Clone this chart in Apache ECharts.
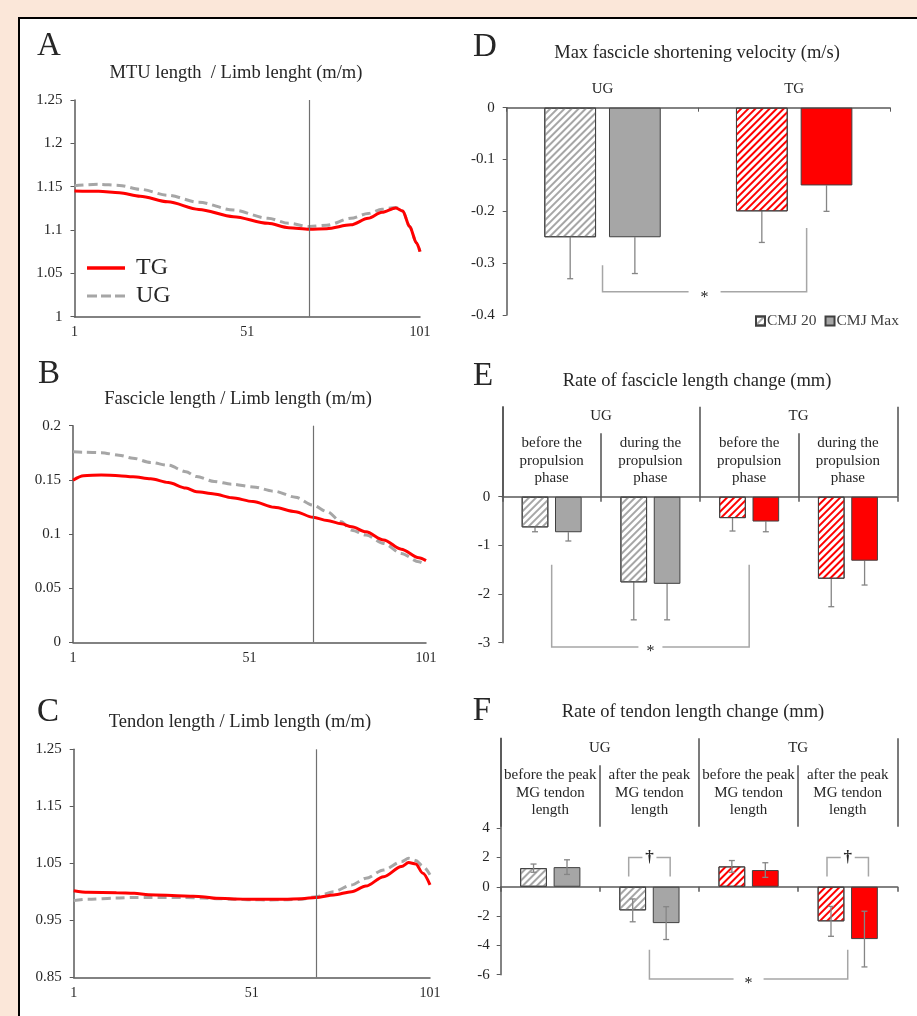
<!DOCTYPE html>
<html lang="en">
<head>
<meta charset="UTF-8">
<title>Jump mechanics figure</title>
<style>
  html, body { margin: 0; padding: 0; width: 917px; height: 1016px; overflow: hidden; background: #fbe7d9; }
  #frame { position: absolute; left: 18px; top: 17px; width: 920px; height: 1020px; background: #fff;
           border-left: 2px solid #000; border-top: 2px solid #000; }
  #main { position: absolute; left: 0; top: 0; width: 917px; height: 1016px; }
</style>
</head>
<body>
<div id="frame"></div>
<div id="main"></div>
<script src="https://cdn.jsdelivr.net/npm/echarts@6/dist/echarts.min.js"></script>
<script>
// ---- data ----
// A-C : % of the jump, 1..101
var pct = [];
for (var k = 1; k <= 101; k++) pct.push(String(k));
var propStart = '69';

var mtuTicks = [1, 1.05, 1.1, 1.15, 1.2, 1.25];
var mtuX  = [1, 8, 14, 20, 28, 37, 47, 57, 63, 69, 74, 81, 86, 90, 94, 96, 98, 100, 101];
var mtuTG = [1.145, 1.1446, 1.1431, 1.139, 1.1325, 1.1238, 1.1154, 1.1077, 1.1027, 1.1008, 1.1015, 1.106, 1.1135, 1.1205, 1.1255, 1.122, 1.104, 1.085, 1.075];
var mtuUG = [1.1512, 1.1527, 1.1515, 1.147, 1.140, 1.132, 1.123, 1.1135, 1.1077, 1.104, 1.1055, 1.1135, 1.119, 1.124, 1.126, 1.122, 1.104, 1.085, 1.075];

var fasTicks = [0, 0.05, 0.1, 0.15, 0.2];
var fasX  = [1, 4, 9, 14, 18, 23, 28, 33, 36, 41, 46, 52, 58, 64, 69, 73, 77, 80, 84, 89, 94, 99, 101];
var fasTG = [0.1497, 0.1538, 0.1545, 0.1539, 0.1528, 0.151, 0.1475, 0.1425, 0.139, 0.137, 0.1335, 0.130, 0.1246, 0.1206, 0.1154, 0.1125, 0.1095, 0.1066, 0.102, 0.0945, 0.086, 0.078, 0.0754];
var fasUG = [0.176, 0.1755, 0.1751, 0.1728, 0.170, 0.166, 0.1635, 0.1575, 0.153, 0.1485, 0.146, 0.1435, 0.1395, 0.134, 0.1266, 0.1206, 0.1112, 0.1035, 0.099, 0.0913, 0.082, 0.0743, 0.0714];

var tenTicks = [0.85, 0.95, 1.05, 1.15, 1.25];
var tenX  = [1, 5, 13, 18, 22, 32, 37, 41, 46, 51, 56, 60, 65, 69, 74, 79, 83, 88, 93, 95, 97, 99, 101];
var tenTG = [1.002, 0.999, 0.9985, 0.9974, 0.995, 0.9927, 0.9915, 0.9886, 0.9875, 0.9868, 0.9868, 0.9868, 0.988, 0.990, 0.9944, 1.0003, 1.010, 1.0266, 1.0442, 1.0512, 1.0488, 1.0325, 1.012];
var tenUG = [0.9845, 0.987, 0.989, 0.990, 0.990, 0.990, 0.989, 0.988, 0.9868, 0.986, 0.9857, 0.986, 0.9868, 0.9915, 1.0003, 1.012, 1.0237, 1.0383, 1.053, 1.0588, 1.055, 1.045, 1.03];

// D
var dGroups = ['UG', 'TG'];
var dTicks = [-0.4, -0.3, -0.2, -0.1, 0];
var dCmj20 = [-0.25, -0.20], dCmj20Sd = [0.08, 0.06];
var dCmjMax = [-0.25, -0.15], dCmjMaxSd = [0.07, 0.05];

// E
var eGroups = ['UG', 'TG'];
var ePhases = ['before the\npropulsion\nphase', 'during the\npropulsion\nphase', 'before the\npropulsion\nphase', 'during the\npropulsion\nphase'];
var ePhaseGroup = ['UG', 'UG', 'TG', 'TG'];
var eTicks = [-3, -2, -1, 0];
var eCmj20 = [-0.63, -1.76, -0.44, -1.685], eCmj20Sd = [0.09, 0.77, 0.265, 0.575];
var eCmjMax = [-0.73, -1.79, -0.51, -1.315], eCmjMaxSd = [0.18, 0.74, 0.21, 0.5];

// F
var fGroups = ['UG', 'TG'];
var fPhases = ['before the peak\nMG tendon\nlength', 'after the peak\nMG tendon\nlength', 'before the peak\nMG tendon\nlength', 'after the peak\nMG tendon\nlength'];
var fPhaseGroup = ['UG', 'UG', 'TG', 'TG'];
var fTicks = [-6, -4, -2, 0, 2, 4];
var fCmj20 = [1.27, -1.61, 1.39, -2.36], fCmj20Sd = [0.28, 0.78, 0.4, 1.02];
var fCmjMax = [1.34, -2.48, 1.14, -3.57], fCmjMaxSd = [0.5, 1.12, 0.5, 1.9];

// significance brackets: [from cat, to cat, top left, top right, base]
var dStar = [0, 1.065, -0.304, -0.232, -0.355];
var eStar = [0, 2, -1.4, -1.4, -3.09];
var fStar = [1, 3, -4.3, -4.3, -6.3];
// dagger brackets: [cat, top, bottom]
var fDagger = [[1, 2.0, 0.7], [3, 2.0, 0.7]];

// ---- style ----
var SERIF = '"Liberation Serif", "Times New Roman", serif';
var AXIS = '#5a5a5a', TEXT = '#262626';
var UG_GREY = '#a6a6a6', TG_RED = '#ff0000', BORDER = '#404040', ERR = '#858585', SIG = '#a6a6a6';
var BAR_W = 0.27, BAR_GAP = 0.25;
var DASH_ICON = 'path://M0,0h10v3h-10z M14,0h10v3h-10z M28,0h10v3h-10z';

function hatch(c) {
  return { symbol: 'rect', symbolSize: 1, symbolKeepAspect: false, dashArrayX: [1, 0], dashArrayY: [2, 3],
           rotation: -Math.PI / 4, color: c };
}

function lineX(grid) {
  return { type: 'category', gridIndex: grid, data: pct, boundaryGap: false,
    axisLine: { lineStyle: { color: AXIS, width: 1.5 } }, axisTick: { show: false },
    axisLabel: { interval: 49, margin: 9, color: TEXT, fontFamily: SERIF, fontSize: 14 } };
}

function valY(grid, min, max, ticks, margin) {
  return { type: 'value', gridIndex: grid, min: min, max: max,
    axisLine: { show: true, lineStyle: { color: AXIS, width: 1.5 } },
    axisTick: { show: true, length: 4, customValues: ticks, lineStyle: { color: AXIS } },
    axisLabel: { customValues: ticks, margin: margin, color: TEXT, fontFamily: SERIF, fontSize: 15 },
    splitLine: { show: false } };
}

function headerAxis(grid, cats, offset, len) {
  return { type: 'category', gridIndex: grid, data: cats, position: 'top', offset: offset,
    axisLine: { show: false, onZero: false },
    axisTick: { show: true, inside: true, length: len, interval: 0, lineStyle: { color: '#505050', width: 1.5 } },
    axisLabel: { inside: true, margin: 1, interval: 0, color: TEXT, fontFamily: SERIF, fontSize: 15, lineHeight: 17.6 } };
}

function zeroAxis(grid, cats) {
  return { type: 'category', gridIndex: grid, data: cats, position: 'bottom',
    axisLine: { onZero: true, lineStyle: { color: AXIS, width: 1.5 } },
    axisTick: { show: true, length: 5, interval: 0, lineStyle: { color: AXIS, width: 1.5 } },
    axisLabel: { show: false } };
}

function curve(name, xs, ys, grid, dashed, mark) {
  var s = { type: 'line', name: name, xAxisIndex: grid, yAxisIndex: grid, symbol: 'none',
    smooth: 0.3, smoothMonotone: 'x', z: dashed ? 2 : 3,
    data: xs.map(function (v, i) { return [String(v), ys[i]]; }),
    itemStyle: { color: dashed ? UG_GREY : TG_RED },
    lineStyle: dashed ? { color: UG_GREY, width: 3, type: [9, 5] } : { color: TG_RED, width: 3 } };
  if (mark) {
    s.markLine = { silent: true, symbol: 'none', label: { show: false },
      lineStyle: { color: '#707070', width: 1.2, type: 'solid' }, data: [{ xAxis: propStart }] };
  }
  return s;
}

function bars(name, xIdx, yIdx, vals, groups, hatched) {
  return { type: 'bar', name: name, xAxisIndex: xIdx, yAxisIndex: yIdx,
    barWidth: (BAR_W * 100) + '%', barGap: (BAR_GAP * 100) + '%', z: 3,
    itemStyle: hatched ? { color: '#fff', borderColor: BORDER, borderWidth: 1, decal: hatch(UG_GREY) }
                       : { color: UG_GREY, borderColor: BORDER, borderWidth: 1 },
    data: vals.map(function (v, i) {
      var c = groups[i] === 'TG' ? TG_RED : UG_GREY;
      return { value: v, itemStyle: hatched ? { color: '#fff', decal: hatch(c) } : { color: c } };
    }) };
}

function errBars(xIdx, yIdx, vals, sds, side, both) {
  return { type: 'custom', xAxisIndex: xIdx, yAxisIndex: yIdx, silent: true, z: both ? 6 : 2,
    data: vals.map(function (v, i) { return [i, v, sds[i]]; }),
    renderItem: function (params, api) {
      var i = api.value(0), v = api.value(1), sd = api.value(2);
      var band = api.size([1, 0], [i, v])[0];
      var bw = band * BAR_W;
      var dx = side * (bw + bw * BAR_GAP) / 2;
      var ends = both ? [v - sd, v + sd] : [v, v < 0 ? v - sd : v + sd];
      var p0 = api.coord([i, ends[0]]), p1 = api.coord([i, ends[1]]);
      var x = p0[0] + dx;
      var st = { stroke: ERR, lineWidth: 1.3 };
      var kids = [
        { type: 'line', shape: { x1: x, y1: p0[1], x2: x, y2: p1[1] }, style: st },
        { type: 'line', shape: { x1: x - 3, y1: p1[1], x2: x + 3, y2: p1[1] }, style: st }
      ];
      if (both) kids.push({ type: 'line', shape: { x1: x - 3, y1: p0[1], x2: x + 3, y2: p0[1] }, style: st });
      return { type: 'group', children: kids };
    } };
}

function sigBracket(xIdx, yIdx, b, gap, markDy) {
  return { type: 'custom', xAxisIndex: xIdx, yAxisIndex: yIdx, silent: true, z: 4, data: [[0, 0]],
    renderItem: function (params, api) {
      var band = api.size([1, 0], [0, 0])[0];
      function pt(x, y) { var i = Math.round(x); var p = api.coord([i, y]); return [p[0] + (x - i) * band, p[1]]; }
      var lt = pt(b[0], b[2]), rt = pt(b[1], b[3]), lb = pt(b[0], b[4]), rb = pt(b[1], b[4]);
      var mid = (lb[0] + rb[0]) / 2;
      var st = { stroke: SIG, lineWidth: 1.5, fill: null };
      return { type: 'group', children: [
        { type: 'polyline', shape: { points: [lt, lb, [mid - gap, lb[1]]] }, style: st },
        { type: 'polyline', shape: { points: [[mid + gap, rb[1]], rb, rt] }, style: st },
        { type: 'text', x: mid, y: lb[1] + markDy,
          style: { text: '*', fill: TEXT, font: '16px ' + SERIF, align: 'center', verticalAlign: 'middle',
                   textAlign: 'center', textVerticalAlign: 'middle' } }
      ] };
    } };
}

function daggers(xIdx, yIdx, items) {
  return { type: 'custom', xAxisIndex: xIdx, yAxisIndex: yIdx, silent: true, z: 4,
    data: items.map(function (d) { return [d[0], d[1], d[2]]; }),
    renderItem: function (params, api) {
      var i = api.value(0), top = api.value(1), bot = api.value(2);
      var band = api.size([1, 0], [i, top])[0];
      var bw = band * BAR_W;
      var half = (bw + bw * BAR_GAP) / 2 + 4;
      var pt = api.coord([i, top]), pb = api.coord([i, bot]);
      var L = pt[0] - half, R = pt[0] + half;
      var st = { stroke: SIG, lineWidth: 1.5, fill: null };
      return { type: 'group', children: [
        { type: 'polyline', shape: { points: [[L, pb[1]], [L, pt[1]], [pt[0] - 7, pt[1]]] }, style: st },
        { type: 'polyline', shape: { points: [[pt[0] + 7, pt[1]], [R, pt[1]], [R, pb[1]]] }, style: st },
        { type: 'text', x: pt[0], y: pt[1],
          style: { text: '\u2020', fill: TEXT, font: 'bold 17px ' + SERIF, align: 'center', verticalAlign: 'middle',
                   textAlign: 'center', textVerticalAlign: 'middle' } }
      ] };
    } };
}

// panel letters and titles: [text, x, y, size]
var texts = [
  ['A', 49, 46, 33], ['B', 49, 374, 33], ['C', 48, 712, 33],
  ['D', 485, 47, 33], ['E', 483, 376, 33], ['F', 482, 711, 33],
  ['MTU length  / Limb lenght (m/m)', 236, 73, 18.5],
  ['Fascicle length / Limb length (m/m)', 238, 399, 18.5],
  ['Tendon length / Limb length (m/m)', 240, 722, 18.5],
  ['Max fascicle shortening velocity (m/s)', 697, 53, 18.5],
  ['Rate of fascicle length change (mm)', 697, 381, 18.5],
  ['Rate of tendon length change (mm)', 693, 712, 18.5]
];

var chart = echarts.init(document.getElementById('main'));
chart.setOption({
  animation: false,
  backgroundColor: 'transparent',
  grid: [
    { left: 74.5, top: 100, width: 345.5, height: 216.7 },
    { left: 73, top: 425.7, width: 353, height: 216.6 },
    { left: 73.7, top: 749.3, width: 356.3, height: 228 },
    { left: 506.7, top: 107.7, width: 383.3, height: 207.3 },
    { left: 502.3, top: 406.7, width: 395, height: 236 },
    { left: 500.7, top: 738.3, width: 396.6, height: 236.4 }
  ],
  xAxis: [
    lineX(0), lineX(1), lineX(2),
    { type: 'category', gridIndex: 3, data: dGroups, position: 'top',
      axisLine: { onZero: true, lineStyle: { color: AXIS, width: 1.5 } },
      axisTick: { show: true, inside: true, length: 4, interval: 0, lineStyle: { color: AXIS } },
      axisLabel: { margin: 11, color: TEXT, fontFamily: SERIF, fontSize: 15 } },
    zeroAxis(4, ePhases), headerAxis(4, ePhases, -26.6, 63.4), headerAxis(4, eGroups, 0, 90),
    zeroAxis(5, fPhases), headerAxis(5, fPhases, -27, 61.4), headerAxis(5, fGroups, 0, 88.4)
  ],
  yAxis: [
    valY(0, 1, 1.25, mtuTicks, 12),
    valY(1, 0, 0.2, fasTicks, 12),
    valY(2, 0.85, 1.25, tenTicks, 12),
    valY(3, -0.4, 0, dTicks, 12),
    valY(4, -3, 1.85, eTicks, 12),
    valY(5, -6, 10.13, fTicks, 11)
  ],
  legend: [
    { data: [{ name: 'TG', icon: 'rect' }, { name: 'UG', icon: DASH_ICON }],
      orient: 'vertical', left: 87, top: 256, itemWidth: 38, itemHeight: 3.5, itemGap: 4,
      padding: 0, selectedMode: false, itemStyle: { borderWidth: 0 },
      textStyle: { fontFamily: SERIF, fontSize: 24, color: TEXT, padding: [0, 0, 0, 6] } },
    { data: ['CMJ 20', 'CMJ Max'], left: 755, top: 313, itemWidth: 9, itemHeight: 9, itemGap: 8, icon: 'rect',
      padding: 0, selectedMode: false,
      textStyle: { fontFamily: SERIF, fontSize: 15.5, color: '#404040', padding: [0, 0, 0, -3] } }
  ],
  graphic: texts.map(function (t) {
    return { type: 'text', x: t[1], y: t[2], silent: true,
      style: { text: t[0], font: t[3] + 'px ' + SERIF, fill: TEXT, align: 'center', verticalAlign: 'middle',
               textAlign: 'center', textVerticalAlign: 'middle' } };
  }),
  series: [
    curve('UG', mtuX, mtuUG, 0, true, false), curve('TG', mtuX, mtuTG, 0, false, true),
    curve('UG', fasX, fasUG, 1, true, false), curve('TG', fasX, fasTG, 1, false, true),
    curve('UG', tenX, tenUG, 2, true, false), curve('TG', tenX, tenTG, 2, false, true),

    bars('CMJ 20', 3, 3, dCmj20, dGroups, true), bars('CMJ Max', 3, 3, dCmjMax, dGroups, false),
    errBars(3, 3, dCmj20, dCmj20Sd, -1, false), errBars(3, 3, dCmjMax, dCmjMaxSd, 1, false),
    sigBracket(3, 3, dStar, 16, 6),

    bars('CMJ 20', 4, 4, eCmj20, ePhaseGroup, true), bars('CMJ Max', 4, 4, eCmjMax, ePhaseGroup, false),
    errBars(4, 4, eCmj20, eCmj20Sd, -1, false), errBars(4, 4, eCmjMax, eCmjMaxSd, 1, false),
    sigBracket(4, 4, eStar, 12, 5),

    bars('CMJ 20', 7, 5, fCmj20, fPhaseGroup, true), bars('CMJ Max', 7, 5, fCmjMax, fPhaseGroup, false),
    errBars(7, 5, fCmj20, fCmj20Sd, -1, true), errBars(7, 5, fCmjMax, fCmjMaxSd, 1, true),
    sigBracket(7, 5, fStar, 15, 5),
    daggers(7, 5, fDagger)
  ]
});
</script>
</body>
</html>
